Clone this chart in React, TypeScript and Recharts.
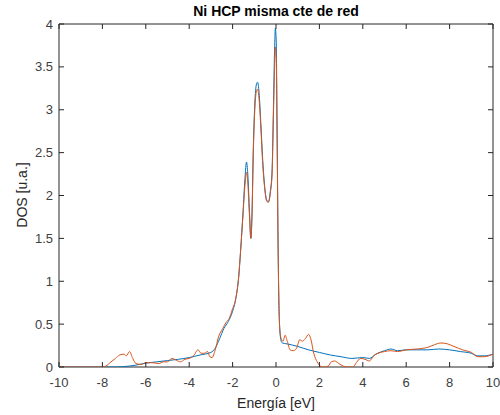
import React from 'react';
import { LineChart, Line, XAxis, YAxis, ReferenceArea } from 'recharts';

const blueX = [-10, -8, -7.5, -7.0, -6.5, -6.0, -5.5, -5.0, -4.5, -4.0, -3.5, -3.0, -2.8, -2.6, -2.4, -2.2, -2.0, -1.85, -1.72, -1.63, -1.52, -1.43, -1.36, -1.3, -1.22, -1.16, -1.1, -1.05, -0.98, -0.9, -0.85, -0.78, -0.7, -0.62, -0.52, -0.42, -0.35, -0.26, -0.18, -0.12, -0.06, -0.03, 0.01, 0.05, 0.09, 0.13, 0.18, 0.24, 0.3, 0.5, 1.0, 1.5, 2.0, 2.5, 3.0, 3.5, 4.0, 4.3, 4.6, 5.0, 5.3, 5.6, 6.0, 6.5, 7.0, 7.5, 8.0, 8.5, 9.0, 9.3, 9.6, 10];
const blueY = [0, 0, 0, 0.005, 0.02, 0.045, 0.06, 0.075, 0.09, 0.11, 0.14, 0.17, 0.22, 0.33, 0.45, 0.53, 0.65, 0.8, 1.05, 1.36, 1.8, 2.2, 2.39, 2.25, 1.8, 1.5, 1.85, 2.5, 3.05, 3.3, 3.32, 3.2, 2.85, 2.45, 2.1, 1.94, 1.93, 2.05, 2.3, 3.0, 3.75, 3.95, 3.8, 2.8, 1.6, 0.8, 0.42, 0.3, 0.28, 0.27, 0.24, 0.2, 0.17, 0.14, 0.12, 0.1, 0.11, 0.1, 0.15, 0.19, 0.21, 0.19, 0.2, 0.2, 0.2, 0.21, 0.2, 0.18, 0.16, 0.13, 0.13, 0.15];

const orangeX = [-10, -8.0, -7.85, -7.6, -7.4, -7.2, -7.0, -6.9, -6.75, -6.6, -6.45, -6.2, -6.0, -5.7, -5.4, -5.2, -5.0, -4.8, -4.6, -4.4, -4.2, -4.0, -3.8, -3.6, -3.45, -3.3, -3.15, -3.05, -2.95, -2.8, -2.65, -2.45, -2.3, -2.15, -2.0, -1.9, -1.8, -1.72, -1.63, -1.52, -1.43, -1.36, -1.3, -1.22, -1.16, -1.1, -1.05, -0.98, -0.9, -0.85, -0.78, -0.7, -0.62, -0.52, -0.42, -0.35, -0.26, -0.18, -0.12, -0.06, -0.03, 0.01, 0.05, 0.09, 0.13, 0.18, 0.24, 0.32, 0.42, 0.52, 0.65, 0.8, 0.95, 1.1, 1.2, 1.35, 1.5, 1.6, 1.75, 1.9, 2.05, 2.2, 2.4, 2.55, 2.7, 2.9, 3.1, 3.3, 3.55, 3.7, 3.9, 4.1, 4.3, 4.5, 4.7, 5.0, 5.3, 5.6, 6.0, 6.5, 7.0, 7.3, 7.6, 7.9, 8.2, 8.6, 9.0, 9.3, 9.6, 9.8, 10];
const orangeY = [0, 0, 0.01, 0.06, 0.1, 0.14, 0.15, 0.13, 0.18, 0.1, 0.04, 0.03, 0.05, 0.05, 0.04, 0.06, 0.06, 0.1, 0.08, 0.06, 0.09, 0.1, 0.13, 0.2, 0.16, 0.16, 0.18, 0.12, 0.11, 0.2, 0.35, 0.45, 0.52, 0.57, 0.68, 0.75, 0.88, 1.05, 1.36, 1.78, 2.12, 2.27, 2.15, 1.75, 1.5, 1.82, 2.45, 2.98, 3.22, 3.24, 3.12, 2.8, 2.4, 2.08, 1.93, 1.92, 2.03, 2.25, 2.9, 3.55, 3.73, 3.6, 2.7, 1.55, 0.8, 0.42, 0.33, 0.3, 0.37, 0.3, 0.2, 0.19, 0.22, 0.32, 0.3, 0.33, 0.38, 0.33, 0.15, 0.06, 0.01, 0, 0.01, 0.06, 0.07, 0.04, 0.01, 0, 0, 0.05, 0.1, 0.09, 0.07, 0.13, 0.16, 0.18, 0.19, 0.18, 0.2, 0.21, 0.23, 0.26, 0.28, 0.27, 0.24, 0.2, 0.17, 0.12, 0.12, 0.13, 0.15];

const xTicks = [-10, -8, -6, -4, -2, 0, 2, 4, 6, 8, 10];
const yTicks = [0, 0.5, 1, 1.5, 2, 2.5, 3, 3.5, 4];

const blueData = blueX.map((x, i) => ({ x, y: blueY[i] }));
const orangeData = orangeX.map((x, i) => ({ x, y: orangeY[i] }));

const FONT = '"Liberation Sans", Arial, Helvetica, sans-serif';
const AX = '#262626';
const tickStyle = { fontSize: 13, fill: '#404040', fontFamily: FONT };
const NoLabel = () => <g />;
const tickLineStyle = { stroke: AX, strokeWidth: 1 };

export default function App() {
  return (
    <div style={{ position: 'absolute', left: 0, top: 0, width: 500, height: 415, background: '#fff', fontFamily: FONT }}>
      <LineChart width={500} height={415} margin={{ top: 24, right: 7, bottom: 0, left: 0 }}>
        <XAxis
          dataKey="x"
          type="number"
          domain={[-10, 10]}
          ticks={xTicks}
          allowDataOverflow
          height={48}
          tickSize={0}
          tickMargin={11}
          tickLine={false}
          axisLine={false}
          tick={tickStyle}
        />
        <XAxis
          xAxisId="bt"
          dataKey="x"
          orientation="bottom"
          mirror
          type="number"
          domain={[-10, 10]}
          ticks={xTicks}
          allowDataOverflow
          height={10}
          tickSize={5}
          tick={NoLabel}
          axisLine={false}
          stroke={AX}
          tickLine={tickLineStyle}
        />
        <XAxis
          xAxisId="top"
          dataKey="x"
          orientation="top"
          mirror
          type="number"
          domain={[-10, 10]}
          ticks={xTicks}
          allowDataOverflow
          height={10}
          tickSize={5}
          tick={NoLabel}
          axisLine={false}
          stroke={AX}
          tickLine={tickLineStyle}
        />
        <YAxis
          type="number"
          domain={[0, 4]}
          ticks={yTicks}
          allowDataOverflow
          width={59}
          tickSize={0}
          tickMargin={6}
          tickLine={false}
          axisLine={false}
          tick={tickStyle}
        />
        <YAxis
          yAxisId="li"
          orientation="left"
          mirror
          type="number"
          domain={[0, 4]}
          ticks={yTicks}
          allowDataOverflow
          width={10}
          tickSize={5}
          tick={NoLabel}
          axisLine={false}
          stroke={AX}
          tickLine={tickLineStyle}
        />
        <YAxis
          yAxisId="right"
          orientation="right"
          mirror
          type="number"
          domain={[0, 4]}
          ticks={yTicks}
          allowDataOverflow
          width={10}
          tickSize={5}
          tick={NoLabel}
          axisLine={false}
          stroke={AX}
          tickLine={tickLineStyle}
        />
        <ReferenceArea x1={-10} x2={10} y1={0} y2={4} fill="none" fillOpacity={0} stroke={AX} strokeWidth={1} ifOverflow="visible" />
        <Line data={blueData} dataKey="y" type="monotone" stroke="#0072BD" strokeWidth={1} dot={false} isAnimationActive={false} />
        <Line data={orangeData} dataKey="y" type="monotone" stroke="#D95319" strokeWidth={1} dot={false} isAnimationActive={false} />
      </LineChart>
      <div style={{ position: 'absolute', left: 59, width: 434, top: 2, textAlign: 'center', fontWeight: 'bold', fontSize: 14, color: '#000', lineHeight: '18px' }}>
        Ni HCP misma cte de red
      </div>
      <div style={{ position: 'absolute', left: 59, width: 434, top: 394, textAlign: 'center', fontSize: 14, color: AX, lineHeight: '18px' }}>
        Energía [eV]
      </div>
      <div style={{ position: 'absolute', left: 22, top: 195, width: 0, height: 0 }}>
        <div style={{ position: 'absolute', left: -60, top: -9, width: 120, textAlign: 'center', fontSize: 14, color: AX, lineHeight: '18px', transform: 'rotate(-90deg)', whiteSpace: 'nowrap' }}>
          DOS [u.a.]
        </div>
      </div>
    </div>
  );
}
